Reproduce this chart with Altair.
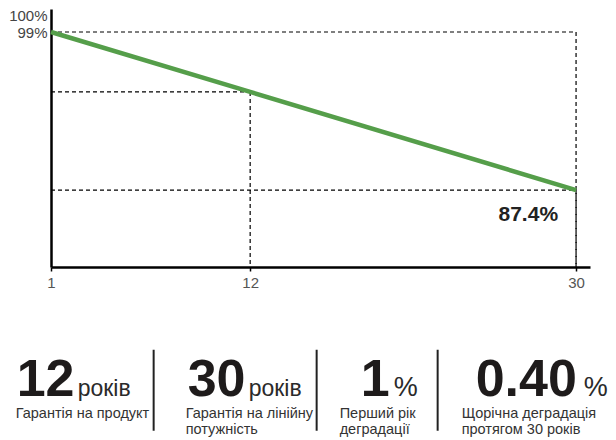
import altair as alt
import pandas as pd

# ---- data ----
years = [1, 12, 30]
retention = [99.0, 94.6, 87.4]
x_ticks = [1, 12, 30]
y_ticks = [99, 100]
end_label = "87.4%"

stat_values = ["12", "30", "1", "0.40"]
stat_units = ["років", "років", "%", "%"]
stat_line1 = ["Гарантія на продукт", "Гарантія на лінійну", "Перший рік", "Щорічна деградація"]
stat_line2 = ["", "потужність", "деградації", "протягом 30 років"]

# ---- layout / style ----
FONT = "Liberation Sans"
GREEN = "#559e4a"
X_DOMAIN = [1, 30.77]
Y_DOMAIN = [81.75, 100.69]
W, H = 539, 258
OX, OY = 50.35, 9.25          # page position of plot origin
num_x = [16, 187, 360, 475]
unit_x = [77, 248, 393, 583]
unit_size = [23, 23, 27, 27]
cap_x = [15, 185, 339, 461]
cap_size = 14.5
sep_x = [153, 316, 437]
NUM_BASE, CAP1_BASE, CAP2_BASE = 396, 418.5, 434.5
SEP_TOP, SEP_BOT = 350, 431

line_df = pd.DataFrame({"year": years, "value": retention})

# dashed guide segments derived from the data points
h_rows = [{"x1": years[0], "x2": years[-1], "y": retention[0]}]
v_rows = [{"x": years[-1], "y": retention[0], "y2": Y_DOMAIN[0]}]
for yr, v in zip(years[1:], retention[1:]):
    h_rows.append({"x1": years[0], "x2": yr, "y": v})
    v_rows.append({"x": yr, "y": v, "y2": Y_DOMAIN[0]})
h_df = pd.DataFrame(h_rows)
v_df = pd.DataFrame(v_rows)

xscale = alt.Scale(domain=X_DOMAIN, nice=False, zero=False)
yscale = alt.Scale(domain=Y_DOMAIN, nice=False, zero=False)

x_axis = alt.Axis(values=x_ticks, format="d", title=None, grid=False,
                  labelFontSize=15, labelColor="#555", labelFont=FONT,
                  labelFlush=False, domainColor="black", domainWidth=2.5,
                  tickColor="black", tickSize=4, tickWidth=1.5, labelPadding=4)
y_axis = alt.Axis(values=y_ticks, labelExpr="datum.value + '%'", title=None,
                  grid=False, ticks=False, labelFontSize=15, labelColor="#444",
                  labelFont=FONT, labelFlush=False, domainColor="black",
                  domainWidth=2.5, labelPadding=4,
                  labelOffset={"condition": {"test": "datum.value >= 100", "value": -2.5},
                               "value": 0})

hlines = alt.Chart(h_df).mark_rule(color="black", strokeWidth=1.2, strokeDash=[4, 3]).encode(
    x=alt.X("x1:Q", scale=xscale, axis=x_axis), x2="x2:Q",
    y=alt.Y("y:Q", scale=yscale, axis=y_axis))
vlines = alt.Chart(v_df).mark_rule(color="black", strokeWidth=1.2, strokeDash=[4, 3]).encode(
    x=alt.X("x:Q", scale=xscale), y=alt.Y("y:Q", scale=yscale), y2="y2:Q")

line = alt.Chart(line_df).mark_line(color=GREEN, strokeWidth=4.5).encode(
    x=alt.X("year:Q", scale=xscale), y=alt.Y("value:Q", scale=yscale))

lbl_df = pd.DataFrame({"year": [years[-1]], "value": [retention[-1]], "t": [end_label]})
end_text = alt.Chart(lbl_df).mark_text(align="right", baseline="alphabetic", dx=-18, dy=31,
                                       font=FONT, fontSize=21, fontWeight="bold",
                                       color="#222").encode(
    x=alt.X("year:Q", scale=xscale), y=alt.Y("value:Q", scale=yscale), text="t:N")

layers = [hlines, vlines, line, end_text]


def txt(s, px, py, size, weight="normal", color="#333"):
    return alt.Chart(pd.DataFrame({"t": [s]})).mark_text(
        align="left", baseline="alphabetic", font=FONT, fontSize=size,
        fontWeight=weight, color=color).encode(
        x=alt.value(px - OX), y=alt.value(py - OY), text="t:N")


for i in range(len(stat_values)):
    layers.append(txt(stat_values[i], num_x[i], NUM_BASE, 52, "bold", "#1e1b1b"))
    layers.append(txt(stat_units[i], unit_x[i], NUM_BASE, unit_size[i], "normal", "#2a2a2a"))
    layers.append(txt(stat_line1[i], cap_x[i], CAP1_BASE, cap_size))
    if stat_line2[i]:
        layers.append(txt(stat_line2[i], cap_x[i], CAP2_BASE, cap_size))

for sx in sep_x:
    layers.append(alt.Chart(pd.DataFrame({"s": [sx]})).mark_rule(color="#222", strokeWidth=2).encode(
        x=alt.value(sx - OX), y=alt.value(SEP_TOP - OY), y2=alt.value(SEP_BOT - OY)))

chart = alt.layer(*layers).properties(
    width=W, height=H, padding={"left": 0, "top": 0, "right": 0, "bottom": 0}
).configure_view(stroke=None)

chart.save("out.html", embed_options={"renderer": "svg", "actions": False})
